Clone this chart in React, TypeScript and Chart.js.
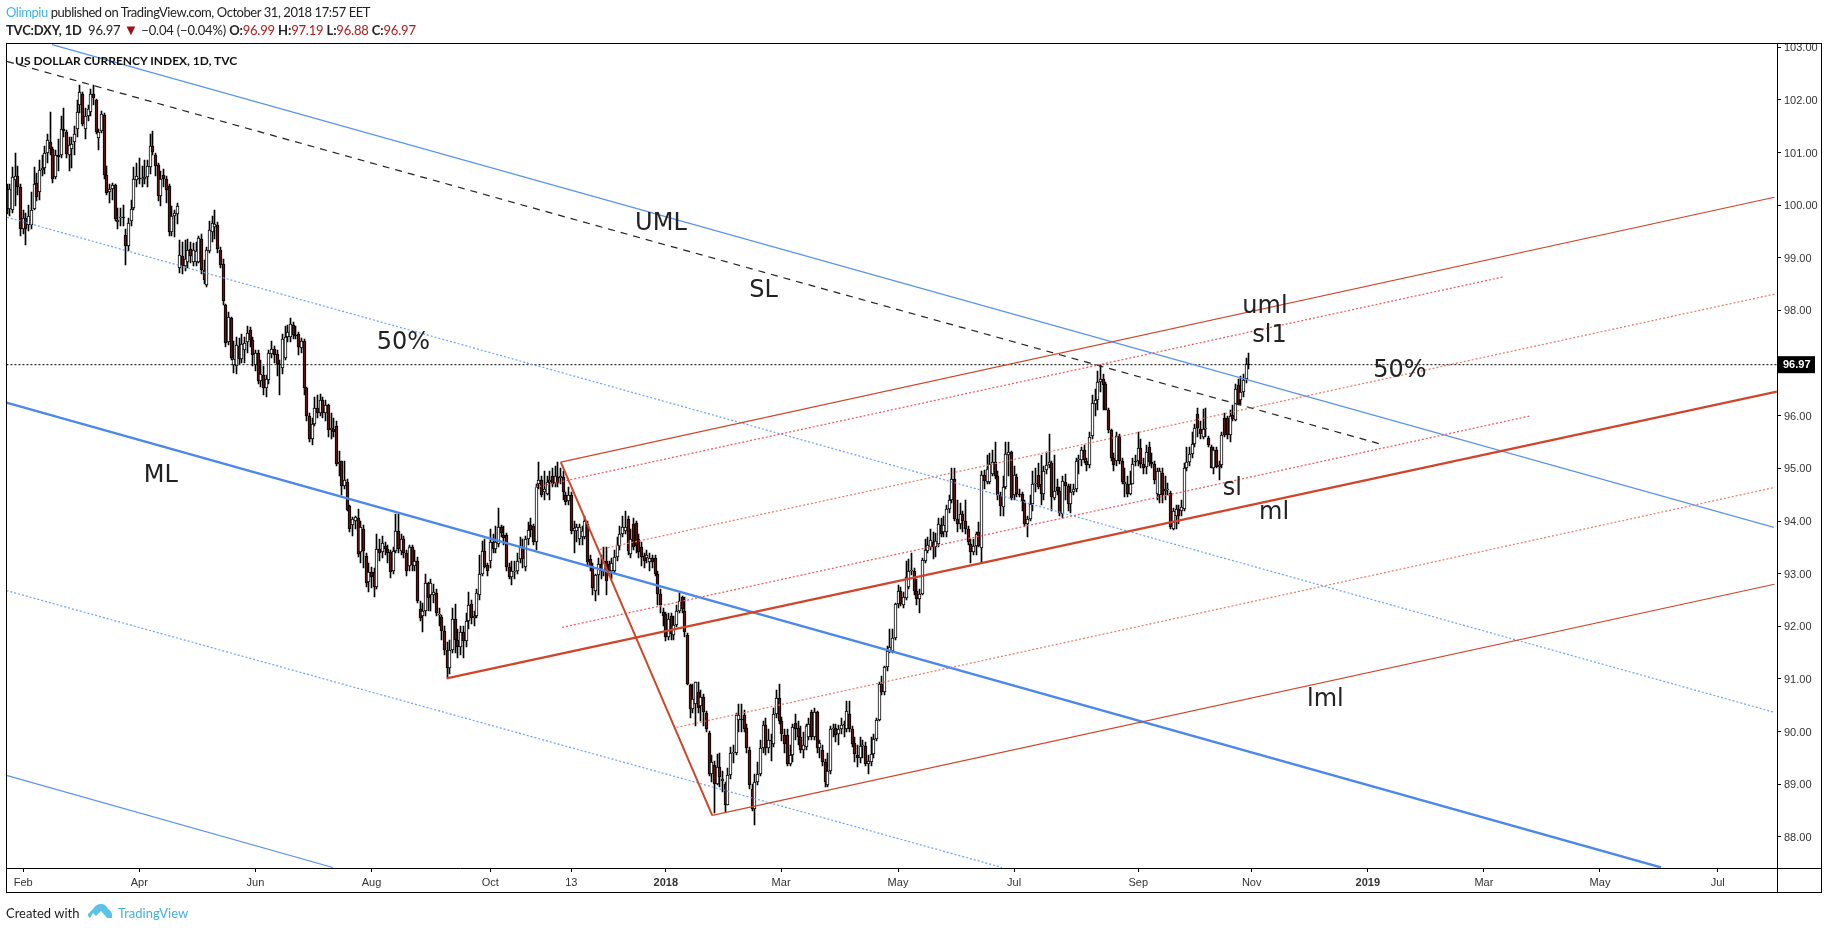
import React, { useEffect, useRef } from "react";
import { Chart, registerables } from "chart.js";

Chart.register(...registerables);

// Each row: [open, high, low, close]
const bars2017a = [
[100.31,100.41,99.84,99.93],[99.93,100.4,99.8,100.3],[99.9,100.72,99.85,100.53],[100.48,101.0,99.98,100.56],[100.55,100.75,100.2,100.35],[100.35,100.4,99.42,99.55],[99.55,99.9,99.45,99.75],[99.75,99.85,99.25,99.55],[99.62,100.0,99.5,99.8],[99.62,100.25,99.55,99.9],
[99.93,100.72,99.9,100.41],[100.43,100.62,100.08,100.15],[100.25,100.85,100.1,100.66],[100.66,100.95,100.55,100.7],[100.7,101.12,100.6,101.0],[101.0,101.35,100.8,101.23],[101.2,101.77,100.95,101.07],[101.07,101.1,100.42,100.5],[100.53,101.05,100.5,100.95],[100.95,101.25,100.65,100.92],
[100.95,101.7,100.9,101.45],[101.45,101.85,101.3,101.4],[101.39,101.42,100.9,100.97],[100.96,101.3,100.65,101.14],[101.07,101.3,100.7,101.17],[101.2,101.5,100.95,101.36],[101.45,102.0,101.3,101.77],[101.9,102.28,101.75,102.15],[102.12,102.15,101.5,101.55],[101.45,101.85,101.25,101.7],
[101.7,101.9,101.6,101.83],[101.77,102.2,101.7,102.12],[102.12,102.28,101.9,102.03],[102.0,102.02,101.35,101.39],[101.28,101.45,101.05,101.39],[101.41,101.78,101.38,101.74],[101.72,101.75,100.5,100.57],[100.57,100.75,100.2,100.24],[100.25,100.4,100.05,100.31],[100.31,100.42,100.1,100.38],
[100.39,100.41,99.7,99.74],[99.68,99.95,99.55,99.72],[99.76,99.95,99.6,99.78],[99.77,100.0,99.6,99.76],[99.44,99.55,98.87,99.22],[99.22,99.75,99.12,99.66],[99.69,100.1,99.6,99.93],[99.95,100.73,99.9,100.5],[100.48,100.8,100.35,100.55],[100.51,100.9,100.4,100.49],
[100.5,100.75,100.35,100.51],[100.5,100.85,100.4,100.53],[100.53,100.85,100.35,100.74],[100.72,101.35,100.6,101.13],[101.13,101.4,100.95,101.01],[100.96,101.0,100.55,100.74],[100.76,100.8,100.08,100.17],[100.17,100.65,99.98,100.5],[100.58,100.68,100.35,100.5],[100.5,100.55,100.05,100.28],
[100.36,100.4,99.42,99.49],[99.49,99.98,99.42,99.8],[99.79,99.9,99.4,99.85],[99.84,100.05,99.65,99.98],[98.8,99.33,98.72,99.05],[99.03,99.3,98.7,98.84],[98.85,99.33,98.75,98.97],[98.92,99.35,98.8,99.14],[99.17,99.3,98.9,99.03],[98.92,99.28,98.85,99.14],
[98.92,99.3,98.85,99.13],[98.92,99.42,98.9,99.37],[99.35,99.45,98.7,98.76],[98.76,98.95,98.5,98.57],[98.49,99.2,98.45,99.15],[99.13,99.7,99.1,99.53],[99.49,99.8,99.3,99.67],[99.58,99.9,99.35,99.64],[99.63,99.68,99.1,99.17],[99.15,99.2,98.8,98.87],
[98.88,98.98,98.1,98.18],[98.1,98.12,97.3,97.38],[97.4,97.98,97.35,97.88],[97.85,97.88,97.05,97.1],[96.96,97.42,96.82,97.08],[96.94,97.5,96.8,97.34],[97.33,97.48,96.98,97.08],[97.08,97.55,97.0,97.37],[97.24,97.5,97.0,97.38],[97.4,97.7,97.2,97.57],
[97.62,97.68,97.3,97.43],[97.43,97.5,96.95,97.15],[96.96,97.25,96.85,97.19],[97.19,97.25,96.6,96.66],[96.66,97.05,96.55,96.79],[96.77,96.95,96.4,96.52],[96.52,96.78,96.35,96.69],[96.67,97.25,96.6,97.2],[97.18,97.42,97.1,97.26],[97.26,97.32,97.0,97.15],
[97.17,97.25,96.75,96.98],[96.99,97.05,96.4,96.97],[96.91,97.55,96.8,97.46],[97.1,97.7,97.05,97.5],[97.5,97.72,97.4,97.6],[97.5,97.86,97.4,97.75],[97.73,97.78,97.45,97.53],[97.54,97.7,97.45,97.53],[97.55,97.6,97.15,97.3],[97.29,97.48,97.2,97.42],
[97.42,97.45,96.4,96.52],[96.52,96.55,95.9,96.0],[96.0,96.05,95.5,95.55],[95.55,95.95,95.45,95.85],[95.85,96.35,95.8,96.15],[96.15,96.4,95.95,96.05],[96.05,96.42,96.0,96.3],[96.3,96.35,95.95,96.05],[96.05,96.3,95.9,96.2],[96.2,96.22,95.6,95.72],
[95.72,96.06,95.55,95.76],[95.75,95.95,95.6,95.7],
];
const bars2017b = [
[95.8,95.9,95.05,95.09],[95.09,95.33,94.85,95.13],[95.15,95.15,94.5,94.66],[94.66,95.15,94.6,94.78],[94.74,94.8,94.2,94.21],[94.28,94.3,93.8,93.84],[93.92,94.08,93.72,94.03],[94.01,94.1,93.85,94.07],[94.06,94.22,93.32,93.38],[93.41,94.0,93.2,93.89],
[93.85,93.92,93.1,93.43],[93.34,93.4,92.75,92.82],[92.84,93.2,92.65,93.03],[93.03,93.12,92.72,92.94],[93.03,93.1,92.55,92.75],[92.74,93.75,92.7,93.47],[93.47,93.65,93.25,93.4],[93.41,93.72,93.3,93.58],[93.52,93.6,93.35,93.47],[93.47,93.55,93.2,93.4],
[93.41,93.45,92.92,93.03],[93.06,93.5,93.0,93.44],[93.44,94.13,93.4,93.81],[93.81,94.13,93.4,93.46],[93.44,93.75,93.35,93.66],[93.66,93.72,93.3,93.4],[93.4,93.45,92.95,93.05],[93.15,93.55,93.05,93.5],[93.5,93.55,93.05,93.16],[93.14,93.45,93.05,93.25],
[93.25,93.32,92.45,92.49],[92.33,92.48,92.1,92.16],[92.2,92.45,91.9,92.29],[92.29,93.0,92.2,92.82],[92.83,92.85,92.3,92.54],[92.59,92.9,92.3,92.82],[92.59,92.8,92.45,92.65],[92.64,92.7,92.2,92.26],[92.21,92.35,92.0,92.24],[92.18,92.22,91.75,91.92],
[91.92,92.0,91.45,91.55],[91.55,91.7,91.01,91.2],[91.2,91.75,91.1,91.55],[91.55,92.35,91.5,92.13],[92.13,92.42,91.5,91.75],[91.75,91.95,91.4,91.6],[91.6,92.0,91.45,91.9],[91.9,92.0,91.4,91.72],[91.72,92.25,91.6,92.1],[92.1,92.65,91.95,92.4],
[92.43,92.5,92.05,92.15],[92.15,92.3,92.0,92.2],[92.2,92.7,92.15,92.63],[92.59,93.35,92.5,92.99],[93.0,93.62,92.95,93.44],[93.44,93.65,93.1,93.13],[93.16,93.2,92.95,93.06],[93.25,93.85,93.1,93.6],[93.6,93.75,93.4,93.47],[93.47,93.9,93.4,93.6],
[93.57,94.25,93.5,93.89],[93.89,93.92,93.7,93.77],[93.73,93.9,93.55,93.68],[93.73,93.78,93.05,93.13],[93.13,93.2,92.9,92.94],[92.93,93.25,92.78,93.06],[93.03,93.25,92.9,93.06],[93.06,93.4,93.0,93.25],[93.28,93.7,93.2,93.5],[93.5,93.65,93.1,93.28],
[93.12,93.72,93.05,93.66],[93.66,93.98,93.55,93.83],[93.92,94.05,93.7,93.83],[93.9,93.95,93.55,93.6],[93.6,94.7,93.45,94.65],[94.71,95.12,94.6,94.78],[94.78,94.85,94.45,94.49],[94.55,94.95,94.4,94.6],[94.52,94.85,94.5,94.74],[94.74,94.95,94.4,94.78],
[94.86,95.0,94.65,94.71],[94.72,95.05,94.65,94.86],[94.83,95.13,94.65,94.72],[94.82,95.0,94.7,94.85],[94.83,94.95,94.4,94.55],[94.49,94.55,94.3,94.36],[94.39,94.65,94.3,94.49],[94.49,94.55,93.75,93.81],[93.82,94.0,93.4,93.87],[93.82,93.95,93.6,93.89],
[93.66,93.95,93.55,93.89],[93.7,93.9,93.55,93.82],[93.7,94.1,93.65,94.01],[93.94,94.0,93.15,93.22],[93.28,93.35,93.05,93.13],[93.1,93.2,92.6,92.72],[92.68,93.0,92.48,92.97],[92.97,93.3,92.6,93.19],[93.19,93.35,92.9,93.05],[93.05,93.5,92.95,93.25],
[93.25,93.5,92.6,92.87],[93.19,93.25,92.95,93.06],[93.06,93.3,92.9,93.2],[93.06,93.45,93.0,93.32],[93.32,93.7,93.25,93.54],[93.52,93.9,93.45,93.76],[93.76,94.1,93.7,93.89],[93.82,94.2,93.75,93.89],[94.04,94.1,93.35,93.43],[93.38,93.85,93.3,93.66],
[93.95,94.05,93.45,93.5],[93.96,94.0,93.4,93.52],[93.66,93.75,93.3,93.41],[93.5,93.6,93.15,93.32],[93.33,93.4,93.1,93.25],[93.29,93.45,93.2,93.35],[93.22,93.4,93.05,93.29],[93.29,93.35,93.1,93.22],[93.29,93.35,92.95,93.0],[93.0,93.05,92.4,92.62],
];
const bars2018a = [
[92.62,92.7,92.25,92.4],[92.27,92.35,92.0,92.2],[92.23,92.28,91.72,91.8],[91.8,92.25,91.75,92.14],[92.19,92.25,91.75,91.86],[91.84,92.2,91.75,92.02],[92.02,92.4,91.98,92.3],[92.3,92.63,92.25,92.49],[92.55,92.58,92.25,92.33],[92.3,92.55,91.8,91.89],
[91.83,91.88,90.88,90.91],[90.88,90.9,90.25,90.43],[90.43,90.9,90.35,90.62],[90.53,90.95,90.1,90.94],[90.76,90.95,90.35,90.45],[90.48,90.8,90.2,90.66],[90.66,90.72,90.1,90.37],[90.36,90.4,90.0,90.05],[89.98,90.02,89.15,89.2],[89.2,89.55,89.05,89.42],
[89.36,89.45,88.45,89.0],[89.0,89.58,88.98,89.32],[89.33,89.6,88.95,89.14],[89.07,89.25,88.85,89.1],[89.0,89.05,88.48,88.61],[88.61,89.3,88.6,89.17],[89.17,89.7,89.1,89.6],[89.6,89.75,89.4,89.62],[89.6,90.35,89.55,90.31],[90.23,90.53,90.0,90.31],
[90.24,90.53,90.0,90.22],[90.31,90.42,90.0,90.05],[90.07,90.15,89.6,89.69],[89.66,89.7,88.92,88.98],[88.92,89.0,88.5,88.53],[88.53,89.2,88.23,89.04],[89.04,89.42,88.98,89.2],[89.2,89.85,89.15,89.69],[89.68,90.2,89.6,90.12],[90.12,90.25,89.55,89.68],
[89.68,90.05,89.6,89.85],[89.85,89.95,89.45,89.84],[89.77,90.45,89.7,90.34],[90.34,90.8,90.25,90.64],[90.64,90.91,90.15,90.2],[90.2,90.28,89.82,89.95],[89.93,90.05,89.6,89.77],[89.93,90.05,89.35,89.39],[89.39,89.75,89.35,89.55],[89.55,90.15,89.42,90.09],
[90.16,90.33,89.85,90.05],[90.07,90.2,89.75,89.9],[89.9,90.1,89.6,89.66],[89.66,90.0,89.5,89.74],[89.71,90.15,89.65,90.1],[89.9,90.25,89.85,90.15],[90.37,90.42,89.85,89.9],[89.9,90.45,89.85,90.38],[90.38,90.4,89.6,89.68],[89.68,89.85,89.5,89.79],
[89.66,89.75,89.35,89.42],[89.42,89.48,88.95,89.04],[88.98,89.6,88.95,89.26],[89.26,90.1,89.2,90.05],[90.05,90.15,89.9,90.06],[90.07,90.15,89.8,89.93],[89.96,90.12,89.75,90.05],[90.05,90.25,89.95,90.12],[90.15,90.2,89.9,90.12],[90.05,90.58,90.0,90.4],
[90.34,90.58,90.0,90.05],[90.05,90.1,89.7,89.77],[89.79,89.9,89.42,89.57],[89.55,89.75,89.32,89.49],[89.49,89.9,89.4,89.72],[89.73,89.85,89.5,89.75],[89.73,89.8,89.35,89.39],[89.38,89.55,89.2,89.44],[89.42,89.9,89.35,89.58],[89.58,89.95,89.5,89.86],
[89.86,90.25,89.82,90.23],[90.23,90.95,90.2,90.9],[90.9,91.05,90.7,90.75],[90.75,91.25,90.7,91.23],[91.23,91.62,91.15,91.53],[91.54,91.95,91.5,91.6],[91.54,91.95,91.5,91.78],[91.78,92.45,91.75,92.43],[92.42,92.78,92.35,92.68],[92.68,92.75,92.38,92.42],
[92.4,92.65,92.35,92.55],[92.54,93.25,92.5,92.93],[92.74,93.27,92.7,93.06],[93.06,93.4,92.98,93.07],[93.06,93.1,92.6,92.68],[92.68,92.9,92.4,92.52],[92.52,92.7,92.25,92.62],[92.62,93.3,92.6,93.26],[93.25,93.65,93.2,93.45],[93.44,93.7,93.4,93.54],
[93.5,93.85,93.45,93.64],
];
const bars2018b = [
[93.6,93.8,93.28,93.5],[93.5,93.78,93.32,93.63],[93.57,94.05,93.5,93.95],[93.92,94.05,93.7,93.76],[93.79,94.1,93.7,93.92],[93.79,94.3,93.7,94.23],[94.23,94.5,94.15,94.4],[94.4,95.0,94.35,94.8],[94.8,95.0,94.0,94.04],[94.04,94.4,93.8,93.94],
[93.95,94.35,93.85,94.14],[94.14,94.2,93.8,94.01],[94.01,94.4,93.75,93.85],[93.85,93.9,93.55,93.6],[93.57,93.65,93.2,93.41],[93.41,93.65,93.35,93.52],[93.52,93.8,93.35,93.75],[93.79,93.98,93.5,93.52],[93.48,94.95,93.2,94.87],[94.88,94.97,94.6,94.77],
[94.74,95.25,94.7,94.99],[94.74,95.3,94.7,95.09],[94.9,95.35,94.85,95.12],[95.12,95.5,94.8,94.85],[94.85,94.95,94.4,94.49],[94.49,94.55,94.1,94.28],[94.27,94.85,94.1,94.65],[94.65,95.5,94.6,95.28],[95.25,95.5,94.85,95.31],[95.31,95.33,94.4,94.44],
[94.49,95.05,94.4,94.87],[94.84,94.9,94.45,94.52],[94.51,94.6,94.45,94.5],[94.51,94.55,94.2,94.39],[94.36,94.4,93.9,93.94],[93.94,94.1,93.7,94.04],[94.04,94.5,94.0,94.33],[94.33,94.95,94.2,94.71],[94.71,95.0,94.55,94.72],[94.87,95.1,94.6,94.65],
[94.71,95.25,94.3,94.51],[94.52,95.05,94.4,94.96],[94.97,95.32,94.9,95.06],[95.06,95.65,95.0,95.12],[95.1,95.15,94.2,94.46],[94.44,95.25,94.4,94.58],[94.65,94.8,94.5,94.58],[94.58,94.65,94.1,94.15],[94.14,94.85,94.05,94.77],[94.75,94.9,94.4,94.66],
[94.66,94.7,94.2,94.33],[94.33,94.7,94.15,94.55],[94.55,94.7,94.5,94.61],[94.61,95.2,94.55,95.15],[95.16,95.25,94.9,95.18],[95.16,95.4,95.05,95.34],[95.34,95.45,95.1,95.16],[95.15,95.2,94.95,95.06],[95.07,95.7,95.0,95.59],[95.61,96.4,95.55,96.24],
[96.23,96.5,96.0,96.3],[96.3,96.85,96.1,96.64],[96.64,96.97,96.45,96.7],[96.7,96.8,96.1,96.58],[96.61,96.65,96.1,96.11],[96.11,96.15,95.68,95.72],[95.72,95.75,95.15,95.2],[95.2,95.3,94.95,95.07],[95.15,95.7,95.05,95.61],[95.61,95.65,95.08,95.14],
[95.14,95.2,94.7,94.74],[94.71,95.0,94.45,94.75],[94.71,94.85,94.45,94.52],[94.52,94.95,94.5,94.71],[94.71,95.2,94.7,95.09],[95.15,95.25,95.05,95.13],[95.15,95.7,95.05,95.39],[95.39,95.55,95.0,95.09],[95.09,95.2,94.9,95.0],[95.03,95.45,94.9,95.31],
[95.4,95.5,95.05,95.12],[95.12,95.3,95.0,95.09],[95.09,95.15,94.7,94.78],[94.52,95.0,94.4,94.95],[94.5,95.0,94.35,94.95],[94.92,95.0,94.35,94.49],[94.58,94.85,94.4,94.6],[94.6,94.72,94.5,94.6],[94.53,94.58,93.85,93.89],[93.85,94.25,93.83,94.2],
[94.1,94.3,93.85,94.23],[94.23,94.3,93.95,94.1],[94.2,94.4,94.1,94.27],[94.23,95.1,94.2,95.0],[95.0,95.4,94.95,95.13],[95.12,95.4,95.05,95.28],[95.27,95.7,95.2,95.47],[95.47,95.85,95.4,95.77],[96.04,96.15,95.6,95.77],[95.75,95.9,95.55,95.65],
[95.6,96.12,95.55,95.75],[95.75,96.15,95.6,95.77],[95.58,95.62,95.4,95.44],[95.41,95.45,95.0,95.01],[95.01,95.4,94.9,95.34],[95.34,95.4,95.0,95.03],[95.03,95.15,94.78,95.06],[95.06,95.7,95.0,95.64],[95.96,96.05,95.6,95.64],[95.96,96.0,95.55,95.63],
[95.63,96.1,95.5,96.0],[96.02,96.2,95.9,95.94],[95.91,96.6,95.9,96.51],[96.58,96.7,96.2,96.23],[96.29,96.75,96.2,96.45],[96.45,96.8,96.35,96.67],[96.7,97.1,96.62,96.99],[96.99,97.19,96.88,96.97],
];

const tickPositions = [6, 49, 92, 135, 179, 209, 244, 286.7, 330, 373, 419, 461, 504, 547, 590, 633.6];
const tickLabels = ["Feb", "Apr", "Jun", "Aug", "Oct", "13", "2018", "Mar", "May", "Jul", "Sep", "Nov", "2019", "Mar", "May", "Jul"];
const priceTicks = [88, 89, 90, 91, 92, 93, 94, 95, 96, 98, 99, 100, 101, 102, 103];
const lastPrice = 96.97;

// Each line: [barStart, priceStart, barEnd, priceEnd]
const redMedian = [162.8, 91.01, 655.5, 96.46];
const redHandle = [205.1, 95.12, 261.2, 88.41];
const redUpper = [205.1, 95.12, 654.6, 100.15];
const redLower = [261.2, 88.41, 654.6, 92.8];
const redSl1 = [195.6, 94.64, 554.4, 98.64];
const redHalfUp = [219.6, 93.46, 654.6, 98.31];
const redSl = [205.6, 91.98, 564.4, 96.0];
const redHalfDown = [248, 90.08, 654.8, 94.64];
const blueUpper = [16.7, 103.05, 654.4, 93.88];
const blueMedian = [-0.2, 96.25, 612.6, 87.42];
const blueHalfUp = [0, 99.77, 654.4, 90.37];
const blueHalfDown = [-0.2, 92.68, 368.5, 87.42];
const blueLower = [-0.2, 89.17, 120.7, 87.42];
const blackDashed = [0, 102.73, 508.9, 95.46];
const priceLine = [-0.2, lastPrice, 655.56, lastPrice];

const noteTexts = ["UML", "SL", "50%", "ML", "uml", "sl1", "50%", "sl", "ml", "lml"];
const noteBars = [242.2, 280.2, 146.8, 57, 465.9, 467.6, 515.9, 453.8, 469.3, 488.3];
const notePrices = [99.64, 98.38, 97.38, 94.86, 98.07, 97.52, 96.85, 94.62, 94.15, 90.61];

const allBars = [...bars2017a, ...bars2017b, ...bars2018a, ...bars2018b];

const RED = "#d0452a";
const BLUE = "#4a88ee";

const seg = (l: number[], color: string, width: number, dash: number[] = []) => ({
  type: "line" as const,
  data: [{ x: l[0], y: l[1] }, { x: l[2], y: l[3] }],
  borderColor: color,
  borderWidth: width,
  borderDash: dash,
  pointRadius: 0,
  tension: 0,
  order: 0,
});

const overlayPlugin = {
  id: "overlay",
  afterDatasetsUpdate(chart: any) {
    // Snap candle rectangles to whole pixels so that they stay crisp at 2.7px per bar.
    chart.data.datasets.forEach((d: any, i: number) => {
      if (d.type !== "bar") return;
      chart.getDatasetMeta(i).data.forEach((el: any) => {
        el.x = Math.round(el.x - 0.5) + 0.5;
        el.y = Math.round(el.y);
        el.base = Math.round(el.base);
        if (el.y === el.base) el.base = el.y + 1;
      });
    });
  },
  afterDatasetsDraw(chart: any) {
    const { ctx, scales } = chart;
    ctx.save();
    ctx.fillStyle = "#222";
    ctx.font = '24px "DejaVu Sans"';
    ctx.textAlign = "center";
    ctx.textBaseline = "middle";
    noteTexts.forEach((t, i) => {
      ctx.fillText(t, scales.x.getPixelForValue(noteBars[i]), scales.y.getPixelForValue(notePrices[i]));
    });
    ctx.restore();
  },
  afterDraw(chart: any) {
    const { ctx, chartArea, scales } = chart;
    const right = chartArea.right;
    const outerR = 1821.5;
    const outerB = 892.5;
    ctx.save();
    ctx.fillStyle = "#fff";
    ctx.fillRect(right, 0, outerR - right + 4, 43);
    ctx.strokeStyle = "#000";
    ctx.lineWidth = 1;
    ctx.strokeRect(6.5, 43.5, outerR - 6.5, outerB - 43.5);
    ctx.beginPath();
    ctx.moveTo(Math.round(right) + 0.5, 43.5);
    ctx.lineTo(Math.round(right) + 0.5, outerB);
    ctx.moveTo(6.5, Math.round(chartArea.bottom) + 0.5);
    ctx.lineTo(outerR, Math.round(chartArea.bottom) + 0.5);
    ctx.stroke();
    const y = scales.y.getPixelForValue(lastPrice);
    ctx.fillStyle = "#000";
    ctx.fillRect(right, y - 8.5, 38, 17);
    ctx.fillStyle = "#fff";
    ctx.font = 'bold 11px "Liberation Sans"';
    ctx.textAlign = "left";
    ctx.textBaseline = "middle";
    ctx.fillText(lastPrice.toFixed(2), right + 6, y + 0.5);
    ctx.restore();
  },
};

export default function App() {
  const ref = useRef<HTMLCanvasElement>(null);
  useEffect(() => {
    document.body.style.margin = "0";
    const body = allBars.map((b, i) => ({ x: i, y: [b[0], b[3]] }));
    const wick = allBars.map((b, i) => ({ x: i, y: [b[2], b[1]] }));
    const chart = new Chart(ref.current as HTMLCanvasElement, {
      type: "bar",
      data: {
        datasets: [
          seg(redMedian, RED, 2.3),
          seg(redHandle, RED, 2),
          seg(redUpper, RED, 1.2),
          seg(redLower, RED, 1.2),
          seg(redSl1, "#f2555a", 1.2, [2, 2]),
          seg(redSl, "#f2555a", 1.2, [2, 2]),
          seg(redHalfUp, "#e57a68", 1.2, [2, 2]),
          seg(redHalfDown, "#e57a68", 1.2, [2, 2]),
          seg(blueMedian, BLUE, 2.3),
          seg(blueUpper, "#5b93f0", 1.2),
          seg(blueLower, "#5b93f0", 1.2),
          seg(blueHalfUp, "#6ea0f5", 1.2, [2, 2]),
          seg(blueHalfDown, "#6ea0f5", 1.2, [2, 2]),
          seg(blackDashed, "#222", 1.2, [7, 6]),
          seg(priceLine, "#000", 1, [2, 2]),
          {
            type: "bar" as const,
            data: body as any,
            grouped: false,
            barThickness: 3,
            borderWidth: 1,
            borderSkipped: false,
            borderColor: "#000",
            backgroundColor: (c: any) => {
              const r = allBars[c.dataIndex];
              return r && r[3] < r[0] ? "#5a1512" : "#fff";
            },
            order: 1,
          },
          {
            type: "bar" as const,
            data: wick as any,
            grouped: false,
            barThickness: 1,
            borderWidth: 0,
            backgroundColor: "#000",
            order: 2,
          },
        ] as any,
      },
      options: {
        responsive: false,
        animation: false,
        devicePixelRatio: 1,
        layout: { padding: { left: 6.5, top: 43, right: 6, bottom: 37 } },
        plugins: { legend: { display: false }, title: { display: false }, tooltip: { enabled: false } },
        scales: {
          x: {
            type: "linear",
            offset: false,
            min: -0.19,
            max: 655.56,
            afterFit: (s: any) => { s.height = 25; },
            afterBuildTicks: (s: any) => { s.ticks = tickPositions.map((v) => ({ value: v })); },
            grid: { offset: false, drawOnChartArea: false, tickColor: "#000", tickLength: 4, drawTicks: true },
            border: { display: false },
            ticks: {
              autoSkip: false,
              maxRotation: 0,
              padding: 4,
              color: "#333",
              font: (c: any) => ({
                family: "Liberation Sans",
                size: 11,
                weight: /^20/.test(tickLabels[c.index] || "") ? "bold" : "normal",
              }),
              callback: (_v: any, i: number) => tickLabels[i],
            },
          },
          y: {
            type: "linear",
            position: "right",
            min: 87.41,
            max: 103.08,
            afterFit: (s: any) => { s.width = 45; },
            afterBuildTicks: (s: any) => { s.ticks = priceTicks.map((v) => ({ value: v })); },
            grid: { offset: false, drawOnChartArea: false, tickColor: "#000", tickLength: 4 },
            border: { display: false },
            ticks: {
              autoSkip: false,
              padding: 3,
              labelOffset: 1,
              color: "#333",
              font: { family: "Liberation Sans", size: 11 },
              callback: (v: any) => Number(v).toFixed(2),
            },
          },
        },
      } as any,
      plugins: [overlayPlugin],
    } as any);
    return () => chart.destroy();
  }, []);

  const sans = 'Lato, sans-serif';
  const abs = (x: number, y: number, extra: any = {}) => ({
    position: "absolute" as const,
    left: x,
    top: y,
    whiteSpace: "pre" as const,
    fontFamily: sans,
    fontSize: 13,
    lineHeight: "16px",
    color: "#222",
    ...extra,
  });
  const r = { color: "#b21a1a" };
  return (
    <div style={{ position: "relative", width: 1828, height: 930, background: "#fff", overflow: "hidden" }}>
      <canvas ref={ref} width={1828} height={930} style={{ position: "absolute", left: 0, top: 0, display: "block" }} />
      <div style={abs(6, 4, { letterSpacing: "-0.44px" })}>
        <span style={{ color: "#3fb2e6" }}>Olimpiu</span> published on TradingView.com, October 31, 2018 17:57 EET
      </div>
      <div style={abs(6, 21, { letterSpacing: "-0.18px" })}>
        <b>TVC:DXY, 1D</b>  96.97 <span style={{ color: "#a01010", fontSize: 15 }}>▼</span> −0.04 (−0.04%) <b>O:</b><span style={r}>96.99</span> <b>H:</b><span style={r}>97.19</span> <b>L:</b><span style={r}>96.88</span> <b>C:</b><span style={r}>96.97</span>
      </div>
      <div style={abs(15, 53, { fontWeight: 700, fontSize: 12, color: "#111" })}>US DOLLAR CURRENCY INDEX, 1D, TVC</div>
      <div style={abs(6, 905)}>Created with</div>
      <svg style={{ position: "absolute", left: 88, top: 903 }} width="24" height="16" viewBox="0 0 24 16">
        <path d="M0 11 L5 6 Q8 1 13 1 Q18 1 20 6 Q24 8 24 12 L24 15 L19 15 L13 8 L8 13 L5 10 L2 15 L0 13 Z" fill="#5cc3e8" />
      </svg>
      <div style={abs(118, 905, { color: "#3fb2e6" })}>TradingView</div>
    </div>
  );
}
